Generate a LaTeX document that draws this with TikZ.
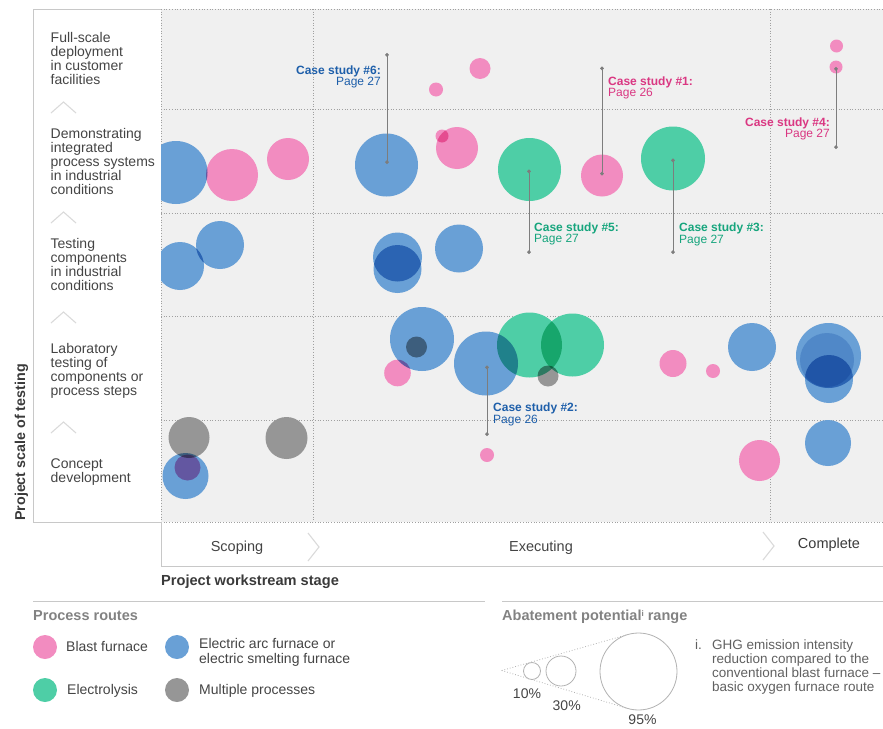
\documentclass[tikz,border=0pt]{standalone}
\usepackage{fontspec}
\setmainfont{Liberation Sans}
\usetikzlibrary{arrows.meta}
\definecolor{bpink}{RGB}{242,140,192}
\definecolor{bblue}{RGB}{105,160,214}
\definecolor{bteal}{RGB}{78,206,166}
\definecolor{bgray}{RGB}{150,150,150}
\definecolor{plotbg}{RGB}{240,240,240}
\definecolor{gridc}{RGB}{160,160,160}
\definecolor{borderc}{RGB}{200,200,200}
\definecolor{chevc}{RGB}{218,218,218}
\definecolor{labc}{RGB}{68,68,68}
\definecolor{titc}{RGB}{58,58,58}
\definecolor{legt}{RGB}{130,130,130}
\definecolor{csblue}{RGB}{30,95,170}
\definecolor{cspink}{RGB}{218,55,130}
\definecolor{csteal}{RGB}{22,165,125}
\definecolor{leadc}{RGB}{125,125,125}
\definecolor{abc}{RGB}{178,178,178}
\newcommand\bub[4]{\fill[#1] (#2,#3) circle[radius=#4];}
\begin{document}
\begin{tikzpicture}[x=1pt,y=-1pt,
  rowlab/.style={anchor=north west, align=left, inner sep=0, text=labc, font=\fontsize{14}{14}\selectfont},
  cslab/.style={inner sep=0, font=\fontsize{12}{11.8}\selectfont},
  leader/.style={draw=leadc, line width=0.9pt, {Circle[length=3.6pt]}-{Circle[length=3.6pt]}},
  gridline/.style={draw=gridc, dotted, line width=0.7pt},
  chev/.style={draw=chevc, line width=1.1pt},
  stagelab/.style={anchor=base, inner sep=0, text=labc, font=\fontsize{14.5}{14.5}\selectfont},
  legtext/.style={anchor=base west, inner sep=0, text=labc, font=\fontsize{14}{14}\selectfont},
  legdot/.style={circle, inner sep=0, minimum size=24pt},
  abcirc/.style={circle, draw=abc, fill=white, line width=0.8pt, inner sep=0},
  cone/.style={draw=abc, dotted, line width=0.8pt},
  pctlab/.style={anchor=base, inner sep=0, text=labc, font=\fontsize{14}{14}\selectfont}]
\useasboundingbox (0,0) rectangle (883,728);
% left panel frame
\draw[draw=borderc, line width=0.8pt] (161,9) -- (33,9) -- (33,522) -- (161,522);
% plot area
\fill[plotbg] (161,9) rectangle (883,522);
\foreach \yy in {9,109,213,316,420,522} \draw[gridline] (161,\yy) -- (883,\yy);
\foreach \xx in {161,313,770} \draw[gridline] (\xx,9) -- (\xx,522);
% stage bar
\draw[draw=borderc, line width=0.8pt] (161,522) -- (161,566) -- (883,566);
\draw[chev] (308,533) -- (319,547) -- (308,561);
\draw[chev] (763,532) -- (774,546) -- (763,560);
\node[stagelab] (sscope) at (237,551.7) {Scoping};
\node[stagelab] (sexec) at (541,551.7) {Executing};
\node[stagelab, text=titc] (scomp) at (829,548.3) {Complete};
\node[anchor=base west, inner sep=0, text=titc, font=\bfseries\fontsize{14.6}{14.6}\selectfont] (xlab) at (161,585.5) {Project workstream stage};
\node[rotate=90, anchor=base, inner sep=0, text=titc, font=\bfseries\fontsize{14.3}{14.3}\selectfont] (ylab) at (25,442.5) {Project scale of testing};
% row labels
\node[rowlab] (r1) at (50.5,32.4) {Full-scale\\deployment\\in customer\\facilities};
\node[rowlab] (r2) at (50.5,128.2) {Demonstrating\\integrated\\process systems\\in industrial\\conditions};
\node[rowlab] (r3) at (50.5,238.2) {Testing\\components\\in industrial\\conditions};
\node[rowlab] (r4) at (50.5,343.2) {Laboratory\\testing of\\components or\\process steps};
\node[rowlab] (r5) at (50.5,458.2) {Concept\\development};
\foreach \yy in {102,212,312,422} \draw[chev] (51,\yy+11) -- (63.5,\yy) -- (76,\yy+11);
% bubbles
\begin{scope}
\clip (161,9) rectangle (883,522);
\begin{scope}[blend group=multiply]
% row 1
\bub{bpink}{436}{89.5}{7}
\bub{bpink}{480}{68.5}{10.5}
\bub{bpink}{836.5}{46}{6.5}
\bub{bpink}{836}{67}{6.5}
% row 2
\bub{bblue}{176}{172.5}{31.5}
\bub{bpink}{232}{175}{26}
\bub{bpink}{288}{159}{21}
\bub{bblue}{386.5}{165}{31.5}
\bub{bpink}{457}{148}{21}
\bub{bpink}{442}{136}{6.5}
\bub{bteal}{529.5}{169.5}{31.5}
\bub{bpink}{602}{175.5}{21}
\bub{bteal}{673}{158.5}{32}
% row 3
\bub{bblue}{180}{266}{24}
\bub{bblue}{220}{245}{24}
\bub{bblue}{397.5}{257}{24.5}
\bub{bblue}{397.5}{269}{24}
\bub{bblue}{459}{248.5}{24}
% row 4
\bub{bblue}{422}{339}{32}
\bub{bgray}{416.5}{347}{10.5}
\bub{bpink}{397.5}{373}{13.3}
\bub{bblue}{486}{363.5}{32}
\bub{bteal}{529.5}{345}{32.5}
\bub{bteal}{572.5}{345}{31.5}
\bub{bgray}{548}{376}{10.5}
\bub{bpink}{673}{363.5}{13.5}
\bub{bpink}{713}{371}{7}
\bub{bblue}{752}{347}{24}
\bub{bblue}{828.5}{355.5}{32.5}
\bub{bblue, fill opacity=0.4}{827}{360}{27}
\bub{bblue}{829}{379}{24}
% row 5
\bub{bgray}{189}{437.5}{20.5}
\bub{bgray}{286.5}{438}{21}
\bub{bblue}{185.5}{476}{23}
\bub{bpink}{187.5}{467.5}{13}
\bub{bpink}{487}{455}{7}
\bub{bpink}{759.5}{460.5}{20.5}
\bub{bblue}{828}{443}{23}
\end{scope}
\end{scope}
% case study leaders
\coordinate (c6a) at (387,53);   \coordinate (c6b) at (387,164);
\coordinate (c1a) at (602,66.5); \coordinate (c1b) at (602,175.5);
\coordinate (c4a) at (836,67);   \coordinate (c4b) at (836,149);
\coordinate (c5a) at (529,169.5);\coordinate (c5b) at (529,254);
\coordinate (c3a) at (673,158.5);\coordinate (c3b) at (673,254);
\coordinate (c2a) at (487,365.5);\coordinate (c2b) at (487,436);
\draw[leader] (c6a) -- (c6b);
\draw[leader] (c1a) -- (c1b);
\draw[leader] (c4a) -- (c4b);
\draw[leader] (c5a) -- (c5b);
\draw[leader] (c3a) -- (c3b);
\draw[leader] (c2a) -- (c2b);
\node[cslab, anchor=north east, align=right, text=csblue] (cs6) at (381,65.3) {\textbf{Case study \#6:}\\Page 27};
\node[cslab, anchor=north west, align=left, text=cspink] (cs1) at (608,76.3) {\textbf{Case study \#1:}\\Page 26};
\node[cslab, anchor=north east, align=right, text=cspink] (cs4) at (830,117.3) {\textbf{Case study \#4:}\\Page 27};
\node[cslab, anchor=north west, align=left, text=csteal] (cs5) at (534,222.3) {\textbf{Case study \#5:}\\Page 27};
\node[cslab, anchor=north west, align=left, text=csteal] (cs3) at (679,222.7) {\textbf{Case study \#3:}\\Page 27};
\node[cslab, anchor=north west, align=left, text=csblue] (cs2) at (493,403) {\textbf{Case study \#2:}\\Page 26};
% legend
\draw[draw=borderc, line width=0.8pt] (33,601) -- (485,601);
\draw[draw=borderc, line width=0.8pt] (502,601) -- (883,601);
\node[anchor=base west, inner sep=0, text=legt, font=\bfseries\fontsize{14.5}{14.5}\selectfont] (lgtitle) at (33,620) {Process routes};
\node[legdot, fill=bpink] (lpink) at (45,647) {};
\node[legdot, fill=bblue] (lblue) at (177,647) {};
\node[legdot, fill=bteal] (lteal) at (45,690) {};
\node[legdot, fill=bgray] (lgray) at (177,690) {};
\node[legtext] (tpink) at (66,651) {Blast furnace};
\node[legtext, anchor=north west, align=left, font=\fontsize{14}{14.5}\selectfont] (tblue) at (199,638.4) {Electric arc furnace or\\electric smelting furnace};
\node[legtext] (tteal) at (67,694) {Electrolysis};
\node[legtext] (tgray) at (199,694) {Multiple processes};
% abatement legend
\node[anchor=base west, inner sep=0, text=legt, font=\bfseries\fontsize{14.5}{14.5}\selectfont] (abtitle) at (502,620) {Abatement potential\raisebox{4pt}{\fontsize{8}{8}\selectfont i} range};
\coordinate (tip) at (501.7,670.5);
\coordinate (ct1) at (627.6,634.6);
\coordinate (ct2) at (627.6,708.4);
\draw[cone] (tip) -- (ct1);
\draw[cone] (tip) -- (ct2);
\node[abcirc, minimum size=17pt] (a10) at (532,671) {};
\node[abcirc, minimum size=30pt] (a30) at (561,671) {};
\node[abcirc, minimum size=77pt] (a95) at (638.5,671.5) {};
\node[pctlab] (p10) at (527,698) {10\%};
\node[pctlab] (p30) at (566.7,710.7) {30\%};
\node[pctlab] (p95) at (642.5,724.5) {95\%};
\node[anchor=base west, inner sep=0, text=labc!85, font=\fontsize{13.5}{14.2}\selectfont] (fni) at (695,649) {i.};
\node[anchor=north west, align=left, inner sep=0, text=labc!85, font=\fontsize{13.5}{14.2}\selectfont] (fn) at (712,639.3) {GHG emission intensity\\reduction compared to the\\conventional blast furnace –\\basic oxygen furnace route};
\end{tikzpicture}
\end{document}
